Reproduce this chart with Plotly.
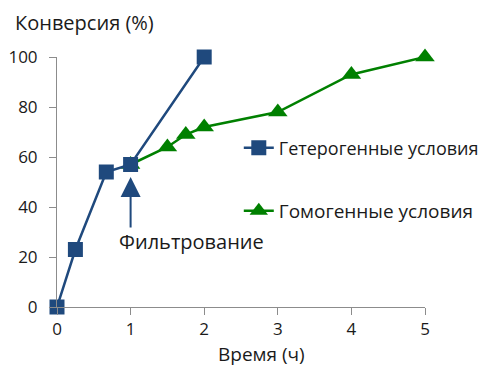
import plotly.graph_objects as go

het_x = [0, 0.25, 0.67, 1, 2]
het_y = [0, 23, 54, 57, 100]
hom_x = [1, 1.5, 1.75, 2, 3, 4, 5]
hom_y = [57, 64, 69, 72, 78, 93, 100]
x_ticks = [0, 1, 2, 3, 4, 5]
y_ticks = [0, 20, 40, 60, 80, 100]
het_name = "Гетерогенные условия"
hom_name = "Гомогенные условия"
filter_x = 1
filter_y = 52
filter_label = "Фильтрование"

BLUE = "#1F497D"
GREEN = "#008000"
AXIS = "#8C8C8C"
FONT = "Open Sans"
TXT = "#1a1a1a"

fig = go.Figure()
fig.add_trace(go.Scatter(
    x=hom_x, y=hom_y, mode="lines+markers", name=hom_name,
    line=dict(color=GREEN, width=2.5),
    marker=dict(symbol="triangle-up", size=17, color=GREEN),
    cliponaxis=False, legend="legend2", showlegend=True))
fig.add_trace(go.Scatter(
    x=het_x, y=het_y, mode="lines+markers", name=het_name,
    line=dict(color=BLUE, width=2.5),
    marker=dict(symbol="square", size=15, color=BLUE),
    cliponaxis=False, legend="legend", showlegend=True))

fig.add_annotation(x=filter_x, y=filter_y, xref="x", yref="y",
                   ax=0, ay=52, showarrow=True, arrowhead=2, arrowsize=2,
                   arrowwidth=2, arrowcolor=BLUE, text="")
fig.add_annotation(x=filter_x, y=filter_y, xref="x", yref="y",
                   xshift=-14, yshift=-64, xanchor="left", yanchor="middle",
                   text=filter_label, showarrow=False,
                   font=dict(family=FONT, size=20, color=TXT))
fig.add_annotation(x=-0.12, y=1.14, xref="paper", yref="paper",
                   xanchor="left", yanchor="middle", showarrow=False,
                   text="Конверсия (%)", font=dict(family=FONT, size=20, color=TXT))
fig.add_annotation(x=0.557, y=-0.246, xref="paper", yref="paper",
                   xanchor="center", yanchor="bottom", showarrow=False,
                   text="Время (ч)", font=dict(family=FONT, size=19, color=TXT))

fig.update_layout(
    width=483, height=361,
    margin=dict(l=49, r=66, t=49, b=62, autoexpand=False),
    paper_bgcolor="white", plot_bgcolor="white",
    showlegend=True,
    font=dict(family=FONT, size=17, color=TXT),
    xaxis=dict(range=[0, 5], tickvals=x_ticks, showgrid=False, zeroline=False,
               showline=True, linecolor=AXIS, linewidth=1,
               ticks="outside", ticklen=7, tickcolor=AXIS, ticklabelstandoff=0,
               tickfont=dict(family=FONT, size=17, color=TXT)),
    yaxis=dict(range=[0, 100], tickvals=y_ticks, showgrid=False, zeroline=False,
               showline=True, linecolor=AXIS, linewidth=1,
               ticks="outside", ticklen=7, tickcolor=AXIS, ticklabelstandoff=8,
               tickfont=dict(family=FONT, size=17, color=TXT)),
    legend=dict(x=0.494, y=0.636, xref="paper", yref="paper", xanchor="left", yanchor="middle",
                bgcolor="rgba(0,0,0,0)", font=dict(family=FONT, size=18, color=TXT),
                itemwidth=30),
    legend2=dict(x=0.494, y=0.384, xref="paper", yref="paper", xanchor="left", yanchor="middle",
                 bgcolor="rgba(0,0,0,0)", font=dict(family=FONT, size=19, color=TXT),
                 itemwidth=30),
)

fig.write_html("out.html")
